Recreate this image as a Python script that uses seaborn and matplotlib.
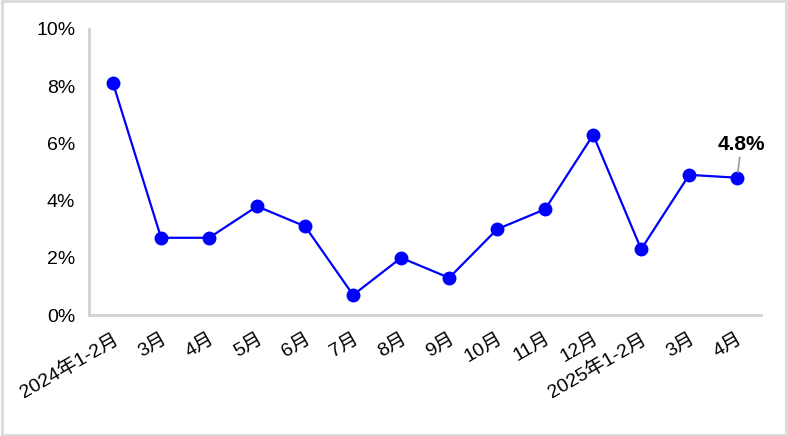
import pandas as pd
import matplotlib.pyplot as plt
import seaborn as sns
from matplotlib.patches import Rectangle
from matplotlib.ticker import FuncFormatter, MultipleLocator, FixedLocator

# data
months = ['2024年1-2月', '3月', '4月', '5月', '6月', '7月', '8月', '9月',
          '10月', '11月', '12月', '2025年1-2月', '3月', '4月']
growth = [8.1, 2.7, 2.7, 3.8, 3.1, 0.7, 2.0, 1.3, 3.0, 3.7, 6.3, 2.3, 4.9, 4.8]

df = pd.DataFrame({'pos': range(len(months)), 'growth': growth})

sns.set_style('white')
plt.rcParams['font.family'] = ['Liberation Sans', 'Noto Sans CJK SC', 'DejaVu Sans']
plt.rcParams['text.color'] = 'black'
plt.rcParams['xtick.labelcolor'] = 'black'
plt.rcParams['ytick.labelcolor'] = 'black'

fig = plt.figure(figsize=(7.88, 4.36), dpi=100)
ax = fig.add_axes([0.113, 0.2775, 0.853, 0.656])

sns.lineplot(data=df, x='pos', y='growth', ax=ax, color='#0000ff',
             linewidth=1.6, marker='o', markersize=10, markeredgewidth=0)

ax.set_xlim(-0.5, len(months) - 0.5)
ax.set_ylim(0, 10)
ax.yaxis.set_major_locator(MultipleLocator(2))
ax.yaxis.set_major_formatter(FuncFormatter(lambda v, p: f'{v:.0f}%'))

# labels at category centres, tick marks at the boundaries
ax.set_xticks(range(len(months)))
ax.set_xticklabels(months, rotation=30, ha='right', va='top', rotation_mode='anchor')
ax.xaxis.set_minor_locator(FixedLocator([i - 0.5 for i in range(len(months) + 1)]))
ax.tick_params(axis='x', which='major', length=0, pad=11, labelsize=14)
ax.tick_params(axis='x', which='minor', length=6, width=2, color='#d0d0d0')
ax.tick_params(axis='y', length=6, width=2, color='#d0d0d0', labelsize=14, pad=4)
ax.set_xlabel('')
ax.set_ylabel('')

for s in ['top', 'right']:
    ax.spines[s].set_visible(False)
for s in ['left', 'bottom']:
    ax.spines[s].set_color('#d0d0d0')
    ax.spines[s].set_linewidth(2)

# callout on the last point
last = len(months) - 1
ax.annotate(f'{growth[-1]}%', xy=(last, growth[-1]), xytext=(3, 17),
            textcoords='offset points', ha='center', va='bottom',
            fontsize=15, fontweight='bold',
            arrowprops=dict(arrowstyle='-', color='#999999', lw=1.2,
                            shrinkA=0, shrinkB=4))

fig.patches.append(Rectangle((0.002, 0.003), 0.996, 0.994, transform=fig.transFigure,
                             fill=False, edgecolor='#d9d9d9', linewidth=2))

fig.savefig('out.png', dpi=100)
